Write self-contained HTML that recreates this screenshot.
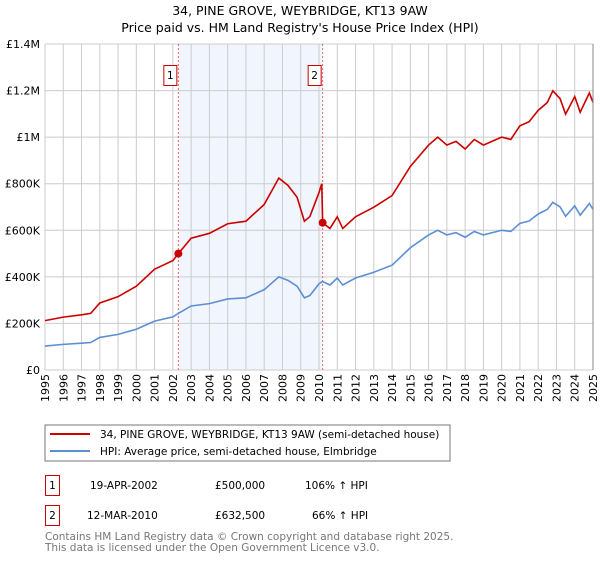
<!DOCTYPE html>
<html><head><meta charset="utf-8"><style>
body{margin:0;background:#fff;font-family:"Liberation Sans","DejaVu Sans",sans-serif;}
svg text{font-family:"DejaVu Sans","Liberation Sans",sans-serif;}
</style></head><body>
<svg id="c" width="600" height="560" xmlns="http://www.w3.org/2000/svg">
<text x="300" y="15" text-anchor="middle" font-size="12.5">34, PINE GROVE, WEYBRIDGE, KT13 9AW</text>
<text x="300" y="32" text-anchor="middle" font-size="12.5">Price paid vs. HM Land Registry's House Price Index (HPI)</text>
<g id="plot"></g>
<rect x="45" y="425" width="405" height="36" fill="none" stroke="#777"/>
<line x1="50" y1="434" x2="90" y2="434" stroke="#cc0000" stroke-width="2"/>
<text x="100" y="438" font-size="10.5">34, PINE GROVE, WEYBRIDGE, KT13 9AW (semi-detached house)</text>
<line x1="50" y1="451" x2="90" y2="451" stroke="#5b8fd4" stroke-width="2"/>
<text x="100" y="455" font-size="10.5">HPI: Average price, semi-detached house, Elmbridge</text>
<g>
<rect x="45.5" y="475.5" width="14" height="20" fill="none" stroke="#cc0000"/>
<text x="52.5" y="489" text-anchor="middle" font-size="10.5">1</text>
<text x="90" y="489" font-size="10.5">19-APR-2002</text>
<text x="215" y="489" font-size="10.5">£500,000</text>
<text x="305" y="489" font-size="10.5">106% ↑ HPI</text></g>
<g>
<rect x="45.5" y="505.5" width="14" height="20" fill="none" stroke="#cc0000"/>
<text x="52.5" y="519" text-anchor="middle" font-size="10.5">2</text>
<text x="87" y="519" font-size="10.5">12-MAR-2010</text>
<text x="215" y="519" font-size="10.5">£632,500</text>
<text x="312" y="519" font-size="10.5">66% ↑ HPI</text></g>
<text x="45" y="540" font-size="10.5" fill="#777">Contains HM Land Registry data © Crown copyright and database right 2025.</text>
<text x="45" y="551" font-size="10.5" fill="#777">This data is licensed under the Open Government Licence v3.0.</text>
</svg>
<script>
const dates=[1995,1996,1997,1997.5,1998,1999,2000,2001,2002,2002.3,2003,2004,2005,2006,2007,2007.8,2008.3,2008.8,2009.2,2009.5,2010,2010.15,2010.2,2010.6,2011,2011.3,2012,2013,2014,2015,2016,2016.5,2017,2017.5,2018,2018.5,2019,2020,2020.5,2021,2021.5,2022,2022.5,2022.8,2023.2,2023.5,2024,2024.3,2024.8,2025];
const hpi=[103,110,115,118,140,153,175,210,228,243,275,285,305,310,345,400,385,360,310,320,370,378,380,365,395,365,395,420,450,525,580,600,580,590,570,595,580,600,595,630,640,670,690,720,700,660,705,665,715,690];
const prop=[212,227,237,243,288,315,360,433,470,500,566,587,628,639,711,824,793,742,639,659,762,800,632,608,658,608,658,699,749,874,966,1000,966,982,949,990,966,1000,990,1049,1066,1115,1149,1199,1165,1099,1174,1107,1190,1149];
const saleDates=[2002.3,2010.2];
const saleValues=[500,632.5];
const saleLabels=["1","2"];
const yTicks=[0,200,400,600,800,1000,1200,1400];
const yTickLabels=["£0","£200K","£400K","£600K","£800K","£1M","£1.2M","£1.4M"];
const years=[1995,1996,1997,1998,1999,2000,2001,2002,2003,2004,2005,2006,2007,2008,2009,2010,2011,2012,2013,2014,2015,2016,2017,2018,2019,2020,2021,2022,2023,2024,2025];

const L=45,R=593,T=44,B=370;
const x=d=>L+(d-1995)/30*(R-L);
const y=v=>B-v/1400*(B-T);
const g=document.getElementById('plot');
const NS='http://www.w3.org/2000/svg';
function mk(tag,attrs){const e=document.createElementNS(NS,tag);for(const k in attrs)e.setAttribute(k,attrs[k]);g.appendChild(e);return e;}

let sh=mk('rect',{x:x(saleDates[0]),y:T,width:x(saleDates[1])-x(saleDates[0]),height:B-T,fill:'#eef3fc',opacity:0.8});


years.forEach(yr=>{
  let l=mk('line',{x1:x(yr),y1:T,x2:x(yr),y2:B,stroke:'#ccc','stroke-width':1});
  
  
  let t=mk('text',{x:0,y:0,'font-size':11,'text-anchor':'end',transform:`translate(${x(yr)+4},${B+4}) rotate(-90)`});
  t.textContent=yr;
  
  
});
yTicks.forEach((v,i)=>{
  let l=mk('line',{x1:L,y1:y(v),x2:R,y2:y(v),stroke:'#ccc','stroke-width':1});
  
  
  let t=mk('text',{x:40,y:y(v)+4,'font-size':11,'text-anchor':'end'});
  t.textContent=yTickLabels[i];
  
  
});
saleDates.forEach((d,i)=>{
  let l=mk('line',{x1:x(d),y1:T,x2:x(d),y2:B,stroke:'#f06060','stroke-width':1,'stroke-dasharray':'2,2'});
  
  
  let r=mk('rect',{x:x(d)-14.5,y:65.5,width:13,height:20,fill:'#fff',stroke:'#cc0000'});
  
  
  let t=mk('text',{x:x(d)-8,y:79,'font-size':10.5,'text-anchor':'middle'});
  t.textContent=saleLabels[i];
  
  
});
let hp=mk('polyline',{points:dates.map((d,i)=>x(d)+','+y(hpi[i])).join(' '),fill:'none',stroke:'#5b8fd4','stroke-width':1.6});


let pp=mk('polyline',{points:dates.map((d,i)=>x(d)+','+y(prop[i])).join(' '),fill:'none',stroke:'#cc0000','stroke-width':1.6});


saleDates.forEach((d,i)=>{
  let c=mk('circle',{cx:x(d),cy:y(saleValues[i]),r:4,fill:'#cc0000'});
  
  
});
let ax=mk('line',{x1:R,y1:T,x2:R,y2:B,stroke:'#888','stroke-width':1});


</script>
</body></html>
